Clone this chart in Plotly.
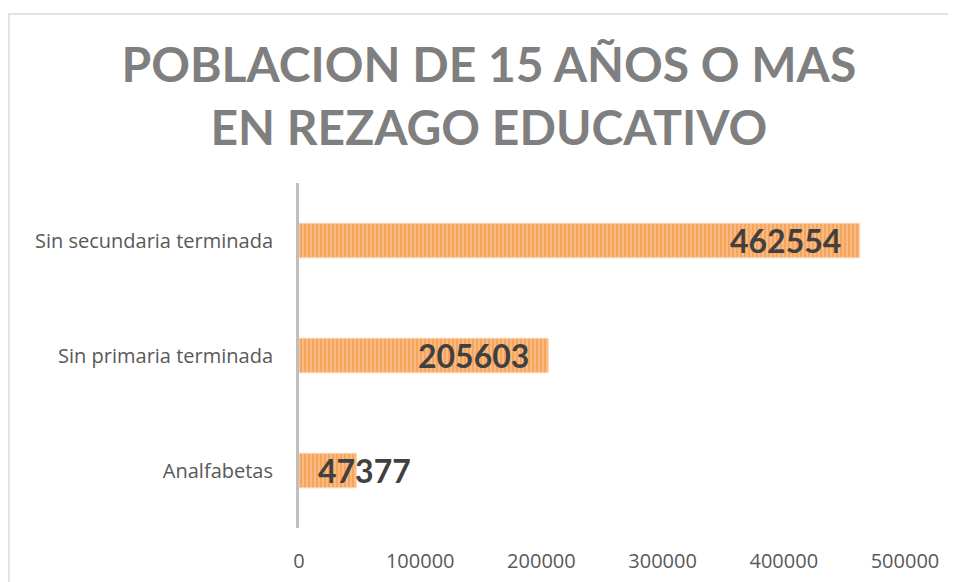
import plotly.graph_objects as go

categories = ["Analfabetas", "Sin primaria terminada", "Sin secundaria terminada"]
values = [47377, 205603, 462554]
x_ticks = [0, 100000, 200000, 300000, 400000, 500000]
title_lines = ["POBLACION DE 15 AÑOS O MAS", "EN REZAGO EDUCATIVO"]

W, H = 956, 582
L, T = 291, 175
plot_w, plot_h = 606, 345
R = W - L - plot_w
B = H - T - plot_h
x_max = x_ticks[-1]

fig = go.Figure()
fig.add_trace(go.Bar(
    y=categories, x=values, orientation="h",
    marker=dict(
        color="#F9BC85",
        line=dict(color="#FBD4B2", width=1),
        pattern=dict(shape="|", size=4, solidity=0.6, fgcolor="#F5892C", bgcolor="#FAC08C"),
    ),
    hoverinfo="skip",
))

label_font = dict(family="Lato, 'Open Sans', sans-serif", size=32, color="#404040", weight="bold")
digit_w = 17.5
pad = 17
for cat, v in zip(categories, values):
    bar_px = v / x_max * plot_w
    txt = str(v)
    if bar_px >= len(txt) * digit_w + 2 * pad:
        fig.add_annotation(x=v, y=cat, text=txt, showarrow=False, xanchor="right",
                           xshift=-pad, font=label_font)
    else:
        fig.add_annotation(x=0, y=cat, text=txt, showarrow=False, xanchor="left",
                           xshift=pad, font=label_font)

# chart-area border (cropped at right/bottom in the reference)
fig.add_shape(type="rect", xref="paper", yref="paper",
              x0=(1 - L) / plot_w, x1=2, y0=-1, y1=1 + (T - 6) / plot_h,
              line=dict(color="#D9D9D9", width=1.5), fillcolor="rgba(0,0,0,0)", layer="below")

fig.update_layout(
    width=W, height=H,
    margin=dict(l=L, r=R, t=T, b=B),
    paper_bgcolor="white", plot_bgcolor="white",
    bargap=0.7,
    showlegend=False,
    title=dict(
        text="<br>".join(title_lines),
        x=0.503, xanchor="center", y=0.872, yanchor="middle",
        font=dict(family="Lato, 'Open Sans', sans-serif", size=48, color="#7F7F7F", weight="bold"),
    ),
    xaxis=dict(
        range=[0, x_max], tickvals=x_ticks, ticktext=[str(t) for t in x_ticks],
        showgrid=False, zeroline=False, showline=False, ticks="",
        tickfont=dict(family="'Open Sans', sans-serif", size=20, color="#595959"),
        ticklabelstandoff=19,
    ),
    yaxis=dict(
        showgrid=False, zeroline=False, showline=True, linecolor="#BFBFBF", linewidth=3,
        ticks="", ticklabelstandoff=19,
        tickfont=dict(family="'Open Sans', sans-serif", size=20, color="#595959"),
    ),
)

fig.write_html("out.html")
